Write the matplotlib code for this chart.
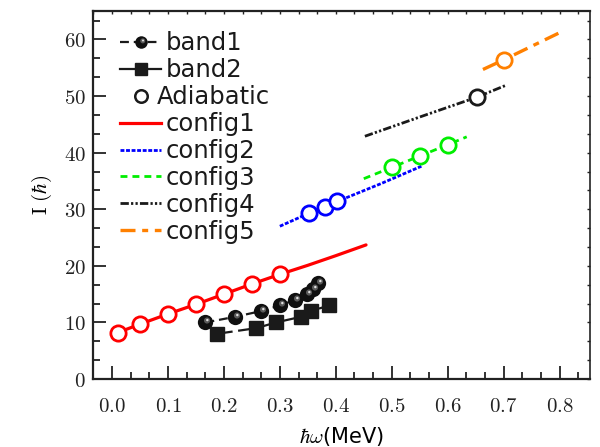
import matplotlib
matplotlib.use("Agg")
import matplotlib.pyplot as plt
from matplotlib.lines import Line2D
from matplotlib.path import Path
from matplotlib.ticker import MultipleLocator, FuncFormatter
from matplotlib.legend_handler import HandlerTuple

plt.rcParams['mathtext.fontset'] = 'cm'
plt.rcParams['font.family'] = ['DejaVu Sans']

# Experimental rotational bands
band1_w = [0.167, 0.220, 0.266, 0.300, 0.327, 0.348, 0.360, 0.368]
band1_I = [10, 11, 12, 13, 14, 15, 16, 17]
band2_w = [0.188, 0.258, 0.293, 0.338, 0.355, 0.388]
band2_I = [8, 9, 10, 11, 12, 13]

# Calculated configurations (curves)
config1_w = [0.01, 0.05, 0.10, 0.15, 0.20, 0.25, 0.30, 0.35, 0.40, 0.454]
config1_I = [8.2, 9.7, 11.5, 13.2, 15.0, 16.8, 18.5, 20.1, 21.8, 23.7]
config2_w = [0.30, 0.352, 0.381, 0.403, 0.48, 0.553]
config2_I = [27.0, 29.3, 30.4, 31.4, 34.5, 37.6]
config3_w = [0.45, 0.50, 0.55, 0.60, 0.634]
config3_I = [35.4, 37.4, 39.4, 41.4, 42.8]
config4_w = [0.452, 0.55, 0.652, 0.704]
config4_I = [42.9, 46.3, 49.8, 51.9]
config5_w = [0.663, 0.70, 0.80]
config5_I = [54.7, 56.4, 61.2]

# Adiabatic points on each configuration
adia1_w = [0.01, 0.05, 0.10, 0.15, 0.20, 0.25, 0.30]
adia1_I = [8.2, 9.7, 11.5, 13.2, 15.0, 16.8, 18.5]
adia2_w = [0.352, 0.381, 0.403]
adia2_I = [29.3, 30.4, 31.4]
adia3_w = [0.50, 0.55, 0.60]
adia3_I = [37.4, 39.4, 41.4]
adia4_w = [0.652]
adia4_I = [49.8]
adia5_w = [0.70]
adia5_I = [56.4]

RED, BLUE, GREEN, BLACK, ORANGE = '#ff0000', '#0000ff', '#00ee00', '#1a1a1a', '#ff8000'

fig = plt.figure(figsize=(6.0, 4.47), dpi=100)
ax = fig.add_axes([0.155, 0.152, 0.828, 0.823])


def blob_path(cx, cy, r):
    # offset circle, plus two bare anchors fixing the marker scale
    anchor = Path([[-0.5, -0.5], [0.5, 0.5]], [Path.MOVETO, Path.MOVETO])
    circ = Path.circle((cx, cy), r)
    return Path.make_compound_path(anchor, circ)


hl1 = blob_path(0.10, 0.13, 0.20)
hl2 = blob_path(0.12, 0.16, 0.08)

SPHERE_LAYERS = [('o', '#101010'), (hl1, '#5a5a5a'), (hl2, '#e0e0e0')]


def sphere(x, y, ms):
    for z, (mk, col) in enumerate(SPHERE_LAYERS):
        ax.plot(x, y, linestyle='none', marker=mk, ms=ms, mfc=col, mew=0,
                zorder=5 + z)


# configuration curves
ax.plot(config1_w, config1_I, color=RED, lw=2.3, solid_capstyle='round', zorder=2)
ax.plot(config2_w, config2_I, color=BLUE, lw=2.0, dashes=(1.4, 0.6), zorder=2)
ax.plot(config3_w, config3_I, color=GREEN, lw=2.0, dashes=(2.5, 1.8), zorder=2)
ax.plot(config4_w, config4_I, color=BLACK, lw=2.0,
        dashes=(3, 0.8, 0.8, 0.8, 0.8, 0.8), zorder=2)
ax.plot(config5_w, config5_I, color=ORANGE, lw=2.4, dashes=(4.5, 2.0, 1.8, 2.0), zorder=2)

# adiabatic points
for w, I, c in [(adia1_w, adia1_I, RED), (adia2_w, adia2_I, BLUE),
                (adia3_w, adia3_I, GREEN), (adia4_w, adia4_I, BLACK),
                (adia5_w, adia5_I, ORANGE)]:
    ax.plot(w, I, linestyle='none', marker='o', ms=11, mfc='white', mec=c,
            mew=2.0, zorder=4)

# experimental bands
ax.plot(band1_w, band1_I, color=BLACK, lw=1.6, dashes=(4, 2.2), zorder=3)
sphere(band1_w, band1_I, 11)
ax.plot(band2_w, band2_I, color=BLACK, lw=1.6, dashes=(7, 2.5), zorder=3)
ax.plot(band2_w, band2_I, linestyle='none', marker='s', ms=10, mfc='#1a1a1a',
        mec='#1a1a1a', zorder=5)

# axes ranges and ticks
ax.set_xlim(-0.034, 0.854)
ax.set_ylim(0, 65)
ax.xaxis.set_major_locator(MultipleLocator(0.1))
ax.xaxis.set_minor_locator(MultipleLocator(0.1 / 3))
ax.yaxis.set_major_locator(MultipleLocator(10))
ax.yaxis.set_minor_locator(MultipleLocator(10 / 3))
ax.xaxis.set_major_formatter(FuncFormatter(lambda v, p: r'$%.1f$' % v))
ax.yaxis.set_major_formatter(FuncFormatter(lambda v, p: r'$%d$' % round(v)))
ax.tick_params(which='both', direction='in', colors='#222222', labelsize=15,
               width=1.3)
ax.tick_params(which='major', length=9.5)
ax.tick_params(which='minor', length=5)
ax.tick_params(axis='x', pad=12)
ax.tick_params(axis='y', pad=5)

for side in ['top', 'right']:
    sec = ax.secondary_xaxis('top') if side == 'top' else ax.secondary_yaxis('right')
    axis = sec.xaxis if side == 'top' else sec.yaxis
    axis.set_major_locator(MultipleLocator(0.1 if side == 'top' else 10))
    axis.set_minor_locator(MultipleLocator(0.1 / 3 if side == 'top' else 10 / 3))
    sec.tick_params(which='both', direction='in', length=2.5, width=1.0,
                    labelleft=False, labelright=False, labeltop=False,
                    labelbottom=False, colors='#222222')
    for s in sec.spines.values():
        s.set_visible(False)

for s in ax.spines.values():
    s.set_linewidth(1.6)
    s.set_color('#222222')
ax.spines['right'].set_linewidth(1.2)

ax.set_xlabel(r'$\hbar\omega$(MeV)', fontsize=15, labelpad=7)
ax.set_ylabel(r'$\mathrm{I}\ (\hbar)$', fontsize=15, labelpad=7)

# legend
h_band1 = (Line2D([], [], color=BLACK, lw=1.6, dashes=(4, 2.2)),) + tuple(
    Line2D([], [], linestyle='none', marker=mk, ms=9, mfc=col, mew=0)
    for mk, col in SPHERE_LAYERS)
h_band2 = Line2D([], [], color=BLACK, lw=1.6, marker='s', ms=9, mfc='#1a1a1a',
                 mec='#1a1a1a')
h_adia = Line2D([], [], linestyle='none', marker='o', ms=9, mfc='white',
                mec=BLACK, mew=1.8)
h_c1 = Line2D([], [], color=RED, lw=2.3)
h_c2 = Line2D([], [], color=BLUE, lw=2.0, dashes=(1.4, 0.6))
h_c3 = Line2D([], [], color=GREEN, lw=2.0, dashes=(2.5, 1.8))
h_c4 = Line2D([], [], color=BLACK, lw=2.0, dashes=(3, 0.8, 0.8, 0.8, 0.8, 0.8))
h_c5 = Line2D([], [], color=ORANGE, lw=2.4, dashes=(4.5, 2.0, 1.8, 2.0))

leg = ax.legend([h_band1, h_band2, h_adia, h_c1, h_c2, h_c3, h_c4, h_c5],
                ['band1', 'band2', 'Adiabatic', 'config1', 'config2', 'config3',
                 'config4', 'config5'],
                handler_map={tuple: HandlerTuple(ndivide=1, pad=0)},
                loc='upper left', bbox_to_anchor=(0.055, 0.945), frameon=False,
                fontsize=17.5, labelspacing=0.12, handlelength=1.69,
                handletextpad=0.17, borderpad=0, borderaxespad=0)
for t in leg.get_texts():
    t.set_color('#1a1a1a')
# the marker-only entry sits closer to its symbol
leg.get_texts()[2].set_x(-9)

fig.savefig('out.png', dpi=100)
